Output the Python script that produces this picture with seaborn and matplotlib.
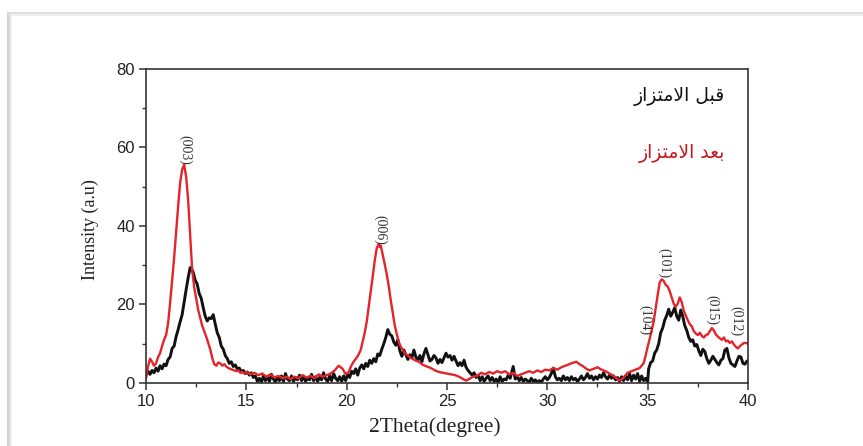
import numpy as np
import pandas as pd
import matplotlib
matplotlib.use("Agg")
import matplotlib.pyplot as plt
from matplotlib.lines import Line2D
from matplotlib.ticker import AutoMinorLocator
import seaborn as sns

# XRD pattern before adsorption (black)
two_theta_before = [
    10.00, 10.10, 10.20, 10.30, 10.40, 10.50, 10.60, 10.70, 10.80, 10.90,
    11.00, 11.10, 11.20, 11.30, 11.40, 11.50, 11.60, 11.70, 11.80, 11.90,
    12.00, 12.10, 12.20, 12.28, 12.35, 12.45, 12.55, 12.65, 12.75, 12.85,
    12.95, 13.05, 13.15, 13.25, 13.35, 13.45, 13.55, 13.65, 13.75, 13.85,
    13.95, 14.05, 14.15, 14.25, 14.35, 14.45, 14.55, 14.65, 14.75, 14.85,
    14.95, 15.05, 15.15, 15.25, 15.35, 15.45, 15.55, 15.65, 15.75, 15.85,
    15.95, 16.05, 16.15, 16.25, 16.35, 16.45, 16.55, 16.65, 16.75, 16.85,
    16.95, 17.05, 17.15, 17.25, 17.35, 17.45, 17.55, 17.65, 17.75, 17.85,
    17.95, 18.05, 18.15, 18.25, 18.35, 18.45, 18.55, 18.65, 18.75, 18.85,
    18.95, 19.05, 19.15, 19.25, 19.35, 19.45, 19.55, 19.65, 19.75, 19.85,
    19.95, 20.05, 20.15, 20.25, 20.35, 20.45, 20.55, 20.65, 20.75, 20.85,
    20.95, 21.05, 21.15, 21.25, 21.35, 21.45, 21.55, 21.65, 21.75, 21.85,
    21.95, 22.05, 22.15, 22.25, 22.35, 22.45, 22.55, 22.65, 22.75, 22.85,
    22.95, 23.05, 23.15, 23.25, 23.35, 23.45, 23.55, 23.65, 23.75, 23.85,
    23.95, 24.05, 24.15, 24.25, 24.35, 24.45, 24.55, 24.65, 24.75, 24.85,
    24.95, 25.05, 25.15, 25.25, 25.35, 25.45, 25.55, 25.65, 25.75, 25.85,
    25.95, 26.05, 26.15, 26.25, 26.35, 26.45, 26.55, 26.65, 26.75, 26.85,
    26.95, 27.05, 27.15, 27.25, 27.35, 27.45, 27.55, 27.65, 27.75, 27.85,
    27.95, 28.05, 28.15, 28.25, 28.30, 28.40, 28.50, 28.60, 28.70, 28.80,
    28.90, 29.00, 29.10, 29.20, 29.30, 29.40, 29.50, 29.60, 29.70, 29.80,
    29.90, 30.00, 30.10, 30.20, 30.30, 30.40, 30.50, 30.60, 30.70, 30.80,
    30.90, 31.00, 31.10, 31.20, 31.30, 31.40, 31.50, 31.60, 31.70, 31.80,
    31.90, 32.00, 32.10, 32.20, 32.30, 32.40, 32.50, 32.60, 32.70, 32.80,
    32.90, 33.00, 33.10, 33.20, 33.30, 33.40, 33.50, 33.60, 33.70, 33.80,
    33.90, 34.00, 34.10, 34.20, 34.30, 34.40, 34.50, 34.60, 34.70, 34.80,
    34.90, 35.00, 35.05, 35.15, 35.25, 35.35, 35.45, 35.55, 35.65, 35.75,
    35.85, 35.95, 36.05, 36.15, 36.25, 36.35, 36.45, 36.55, 36.65, 36.75,
    36.85, 36.95, 37.05, 37.15, 37.25, 37.35, 37.45, 37.55, 37.65, 37.75,
    37.85, 37.95, 38.05, 38.15, 38.25, 38.35, 38.45, 38.55, 38.65, 38.75,
    38.85, 38.95, 39.05, 39.15, 39.25, 39.35, 39.45, 39.55, 39.65, 39.75,
    39.85, 39.95,
]
intensity_before = [
    2.0, 3.0, 2.2, 3.2, 2.6, 3.8, 3.0, 4.4, 3.6, 4.8,
    4.4, 6.0, 6.6, 8.8, 9.4, 11.8, 13.6, 15.6, 17.4, 20.6,
    23.8, 26.8, 29.4, 29.0, 28.2, 26.2, 25.2, 22.8, 21.6, 19.2,
    17.0, 15.8, 16.6, 16.4, 17.4, 15.0, 12.8, 11.6, 9.4, 8.6,
    7.0, 6.2, 5.0, 5.4, 4.2, 4.6, 3.6, 3.8, 2.8, 3.2,
    2.4, 2.8, 2.0, 2.6, 1.4, 1.8, 0.4, 1.2, 0.2, 1.8,
    0.6, 1.4, 0.4, 2.2, 1.0, 0.2, 1.6, 0.6, 1.8, 0.4,
    2.4, 1.0, 0.6, 1.8, 0.4, 1.4, 0.8, 2.0, 0.6, 1.6,
    0.4, 1.2, 0.8, 2.2, 0.6, 1.6, 0.4, 1.4, 0.8, 2.6,
    1.0, 0.4, 1.8, 0.6, 2.4, 1.2, 0.6, 1.6, 0.4, 1.8,
    0.6, 2.2, 1.4, 3.0, 2.4, 3.6, 2.0, 3.8, 4.6, 3.6,
    5.0, 4.2, 5.8, 5.0, 6.2, 5.4, 7.4, 7.0, 8.6, 10.0,
    11.6, 13.6, 12.4, 12.0, 10.4, 9.6, 11.0, 8.2, 6.8, 8.4,
    7.2, 6.0, 7.2, 6.4, 8.4, 6.6, 5.8, 7.0, 5.4, 7.4,
    8.8, 7.2, 5.6, 6.0, 7.0, 6.4, 5.0, 6.0, 5.2, 6.4,
    7.6, 6.6, 7.0, 5.8, 6.8, 5.6, 4.4, 5.2, 4.4, 5.8,
    4.0, 3.2, 2.6, 2.0, 2.6, 1.4, 2.0, 0.6, 1.6, 0.4,
    1.2, 1.8, 0.6, 1.4, 0.4, 1.0, 0.2, 1.6, 0.4, 1.0,
    0.8, 2.0, 1.2, 3.2, 4.2, 1.0, 1.6, 0.6, 1.4, 0.4,
    1.0, 0.6, 0.2, 1.2, 0.4, 0.8, 0.2, 0.6, 0.2, 1.0,
    1.6, 0.8, 1.4, 2.4, 3.8, 1.6, 0.8, 1.2, 0.6, 1.8,
    0.8, 1.4, 0.6, 1.6, 0.8, 1.2, 0.4, 1.0, 1.8, 0.8,
    1.4, 2.4, 1.2, 1.8, 0.8, 1.6, 1.0, 2.0, 1.4, 2.6,
    1.6, 1.0, 2.0, 1.2, 1.8, 0.8, 1.4, 0.4, 1.6, 0.6,
    1.8, 0.8, 2.4, 0.6, 2.0, 1.0, 2.4, 0.4, 1.8, 0.6,
    1.2, 0.2, 3.6, 5.2, 5.6, 7.6, 8.4, 10.0, 12.8, 14.0,
    16.0, 17.2, 18.8, 17.0, 18.0, 19.2, 17.0, 16.0, 18.6, 17.0,
    14.6, 13.4, 11.6, 10.6, 11.0, 9.4, 9.8, 8.2, 7.0, 8.6,
    8.0, 6.2, 5.0, 5.8, 6.8, 6.0, 5.2, 4.6, 5.8, 6.2,
    8.4, 8.8, 6.4, 5.0, 4.6, 4.2, 5.6, 6.8, 6.6, 5.0,
    4.8, 5.6,
]

# XRD pattern after adsorption (red)
two_theta_after = [
    10.00, 10.10, 10.20, 10.30, 10.40, 10.50, 10.60, 10.70, 10.80, 10.90,
    11.00, 11.10, 11.20, 11.30, 11.40, 11.50, 11.60, 11.70, 11.80, 11.90,
    12.00, 12.10, 12.20, 12.30, 12.40, 12.50, 12.60, 12.70, 12.80, 12.90,
    13.00, 13.10, 13.20, 13.30, 13.40, 13.50, 13.60, 13.70, 13.80, 13.90,
    14.00, 14.10, 14.20, 14.30, 14.40, 14.50, 14.60, 14.70, 14.80, 14.90,
    15.00, 15.20, 15.40, 15.60, 15.80, 16.00, 16.20, 16.40, 16.60, 16.80,
    17.00, 17.20, 17.40, 17.60, 17.80, 18.00, 18.20, 18.40, 18.60, 18.80,
    19.00, 19.20, 19.40, 19.60, 19.80, 19.95, 20.10, 20.25, 20.40, 20.55,
    20.70, 20.80, 20.90, 21.00, 21.10, 21.20, 21.30, 21.40, 21.50, 21.60,
    21.65, 21.70, 21.80, 21.90, 22.00, 22.10, 22.20, 22.30, 22.40, 22.50,
    22.60, 22.70, 22.80, 22.90, 23.00, 23.20, 23.40, 23.60, 23.80, 24.00,
    24.20, 24.40, 24.60, 24.80, 25.00, 25.20, 25.40, 25.60, 25.80, 25.95,
    26.10, 26.30, 26.50, 26.70, 26.90, 27.10, 27.30, 27.50, 27.70, 27.90,
    28.10, 28.30, 28.50, 28.70, 28.90, 29.10, 29.30, 29.50, 29.70, 29.90,
    30.10, 30.30, 30.50, 30.70, 30.90, 31.10, 31.30, 31.45, 31.60, 31.80,
    31.95, 32.10, 32.30, 32.50, 32.70, 32.90, 33.10, 33.30, 33.50, 33.65,
    33.80, 34.00, 34.20, 34.40, 34.60, 34.80, 34.90, 35.00, 35.10, 35.20,
    35.30, 35.40, 35.50, 35.60, 35.70, 35.80, 35.90, 36.00, 36.10, 36.20,
    36.30, 36.40, 36.50, 36.60, 36.70, 36.80, 36.90, 37.00, 37.10, 37.20,
    37.30, 37.40, 37.50, 37.60, 37.70, 37.80, 37.90, 38.00, 38.10, 38.20,
    38.30, 38.40, 38.50, 38.60, 38.70, 38.80, 38.90, 39.00, 39.10, 39.20,
    39.30, 39.40, 39.50, 39.60, 39.70, 39.80, 39.90, 40.00,
]
intensity_after = [
    1.2, 4.2, 6.2, 5.4, 4.4, 5.0, 6.6, 7.6, 9.4, 11.0,
    12.2, 15.2, 20.4, 26.0, 31.8, 38.4, 45.0, 51.0, 54.4, 55.6,
    52.6, 46.6, 37.6, 28.8, 24.4, 21.6, 18.6, 16.6, 14.6, 13.2,
    11.8, 10.2, 8.6, 6.4, 4.8, 4.4, 5.2, 5.0, 4.4, 4.8,
    4.2, 3.8, 3.6, 3.4, 3.2, 3.0, 3.2, 2.6, 2.8, 2.4,
    2.8, 2.2, 2.6, 2.0, 2.4, 1.6, 2.2, 1.4, 1.8, 1.2,
    1.6, 1.0, 1.6, 1.2, 2.0, 1.4, 1.8, 1.2, 2.2, 1.6,
    2.0, 2.4, 3.2, 4.4, 3.6, 2.2, 2.8, 4.6, 5.8, 6.8,
    8.4, 10.6, 12.8, 15.6, 19.4, 23.4, 27.2, 31.2, 34.4, 35.4,
    34.6, 35.0, 32.6, 30.2, 27.6, 24.6, 21.0, 17.8, 14.6, 12.4,
    10.4, 9.2, 8.4, 7.6, 7.2, 6.4, 5.8, 5.4, 4.6, 4.2,
    3.8, 3.2, 2.8, 2.6, 2.4, 2.2, 2.0, 1.6, 1.0, 0.6,
    1.0, 1.6, 1.8, 2.6, 2.2, 2.8, 2.4, 3.0, 2.6, 3.0,
    2.2, 2.6, 1.8, 2.2, 2.6, 3.0, 2.6, 3.2, 2.8, 3.4,
    3.2, 3.8, 3.4, 4.0, 4.4, 4.8, 5.2, 5.4, 4.8, 4.2,
    3.6, 3.2, 3.6, 4.0, 3.4, 3.0, 2.4, 1.8, 1.0, 0.6,
    1.4, 2.6, 3.0, 3.4, 3.8, 5.0, 7.0, 9.2, 11.2, 13.4,
    15.6, 19.0, 22.4, 25.6, 26.4, 26.0, 25.0, 24.6, 23.4, 21.8,
    20.2, 19.4, 20.2, 21.8, 20.6, 18.4, 17.2, 16.0, 15.0, 14.4,
    13.2, 12.6, 12.2, 12.8, 12.0, 11.6, 12.2, 12.4, 13.2, 14.0,
    13.4, 12.4, 11.8, 11.4, 11.0, 11.6, 10.6, 10.8, 10.2, 10.6,
    9.8, 9.2, 8.8, 9.4, 9.8, 10.2, 10.2, 10.0,
]

# Miller indices of the reflections and where their labels sit
peak_labels = ["(003)", "(006)", "(104)", "(101)", "(015)", "(012)"]
peak_label_x = [11.94, 21.66, 34.86, 35.81, 38.20, 39.40]
peak_label_y = [59.5, 39.0, 16.0, 30.5, 18.5, 15.8]

x_ticks = [10, 15, 20, 25, 30, 35, 40]
y_ticks = [0, 20, 40, 60, 80]


def arabic_visual(glyphs):
    """Join Arabic presentation-form glyphs in display (left-to-right) order."""
    return "".join(reversed(glyphs))


# "قبل الامتزاز" and "بعد الامتزاز" written with contextual glyph forms
label_before = arabic_visual(["\uFED7", "\uFE92", "\uFEDE", " ", "\uFE8D", "\uFEFB",
                              "\uFEE3", "\uFE98", "\uFEB0", "\uFE8D", "\uFEAF"])
label_after = arabic_visual(["\uFE91", "\uFECC", "\uFEAA", " ", "\uFE8D", "\uFEFB",
                             "\uFEE3", "\uFE98", "\uFEB0", "\uFE8D", "\uFEAF"])

df_before = pd.DataFrame({"two_theta": two_theta_before, "intensity": intensity_before})
df_after = pd.DataFrame({"two_theta": two_theta_after, "intensity": intensity_after})

sns.set_theme(style="white")
plt.rcParams["font.family"] = ["Liberation Sans", "DejaVu Sans"]

fig = plt.figure(figsize=(8.63, 4.46), dpi=100)
fig.patch.set_facecolor("white")
ax = fig.add_axes([0.1692, 0.1413, 0.6975, 0.7040])

black = "#111111"
red = "#e3242b"

sns.lineplot(data=df_before, x="two_theta", y="intensity", ax=ax, color=black,
             linewidth=2.1, sort=False, estimator=None)
sns.lineplot(data=df_after, x="two_theta", y="intensity", ax=ax, color=red,
             linewidth=1.7, sort=False, estimator=None)

ax.set_xlim(10, 40)
ax.set_ylim(0, 80)
ax.set_xticks(x_ticks)
ax.set_yticks(y_ticks)
ax.xaxis.set_minor_locator(AutoMinorLocator(2))
ax.yaxis.set_minor_locator(AutoMinorLocator(2))
ax.tick_params(axis="both", which="major", direction="out", length=5, width=1.1,
               color="#333333", labelsize=12, labelcolor="#222222", pad=3,
               bottom=True, left=True, top=False, right=False)
ax.tick_params(axis="both", which="minor", direction="out", length=3, width=1.0,
               color="#333333", bottom=True, left=True, top=False, right=False)
for spine in ax.spines.values():
    spine.set_visible(True)
    spine.set_color("#333333")
    spine.set_linewidth(1.2)

ax.set_xlabel("2Theta(degree)", family="Liberation Serif", fontsize=15.5,
              color="#222222")
ax.xaxis.set_label_coords(0.48, -0.11)
ax.set_ylabel("Intensity (a.u)", family="Liberation Serif", fontsize=13,
              color="#222222")
ax.yaxis.set_label_coords(-0.078, 0.49)

for name, lx, ly in zip(peak_labels, peak_label_x, peak_label_y):
    ax.text(lx, ly, name, rotation=270, ha="center", va="center",
            family="Liberation Serif", fontsize=10, color="#333333")

ax.text(0.962, 0.911, label_before, transform=ax.transAxes, ha="right", va="center",
        family=["DejaVu Sans"], fontsize=13.5, color="#111111")
ax.text(0.962, 0.732, label_after, transform=ax.transAxes, ha="right", va="center",
        family=["DejaVu Sans"], fontsize=13.5, color="#c8141c")

# card border around the figure
W, H = 863.0, 446.0
for off, col in [(0, "#c8c8c8"), (1.5, "#dcdcdc"), (3, "#ececec")]:
    fig.add_artist(Line2D([(8 + off) / W, (8 + off) / W], [0, 1 - (13 + off) / H],
                          transform=fig.transFigure, color=col, linewidth=1.2))
for off, col in [(0, "#dadada"), (1.5, "#ececec")]:
    fig.add_artist(Line2D([(8 + off) / W, 1], [1 - (13 + off) / H, 1 - (13 + off) / H],
                          transform=fig.transFigure, color=col, linewidth=1.2))

fig.savefig("out.png", dpi=100, facecolor="white")
